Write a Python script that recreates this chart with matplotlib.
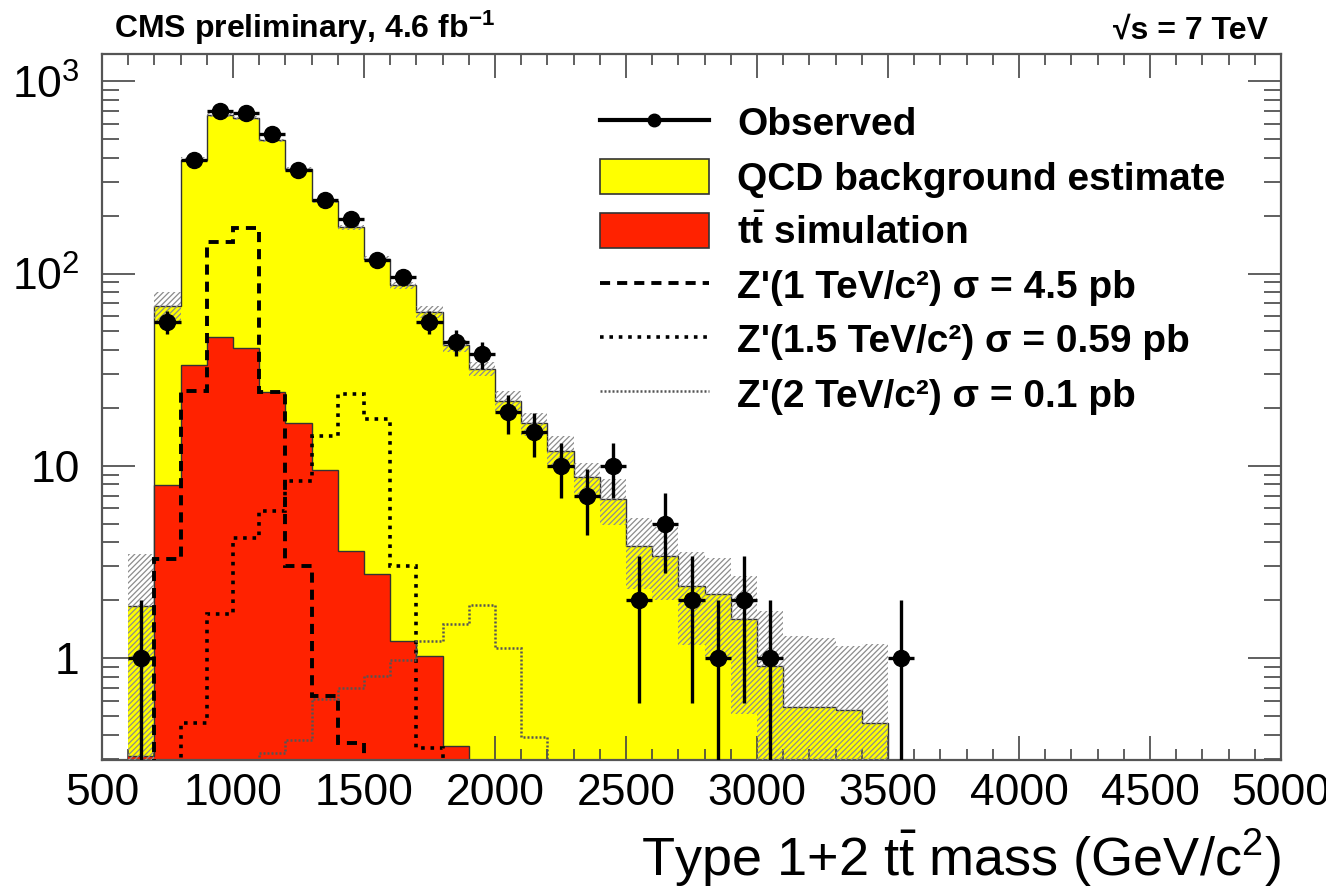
import numpy as np
import matplotlib
matplotlib.use("Agg")
import matplotlib.pyplot as plt
from matplotlib.lines import Line2D
from matplotlib.patches import Patch
from matplotlib.ticker import MultipleLocator, LogLocator, FixedLocator, FuncFormatter, NullFormatter

plt.rcParams['font.family'] = ['Liberation Sans', 'DejaVu Sans']
plt.rcParams['mathtext.fontset'] = 'custom'
plt.rcParams['mathtext.rm'] = 'Liberation Sans'
plt.rcParams['mathtext.bf'] = 'Liberation Sans:bold'
plt.rcParams['mathtext.it'] = 'Liberation Sans:italic'
plt.rcParams['hatch.linewidth'] = 0.9

# bins: 100 GeV wide, 600 -> 3700 GeV
edges = np.arange(600, 3800, 100)

observed = [1, 56, 390, 700, 680, 530, 345, 242, 193, 118, 96, 56, 44, 38, 19, 15,
            10, 7, 10, 2, 5, 2, 1, 2, 1, 0, 0, 0, 0, 1, 0]

qcd = [1.56, 60, 358, 623, 606, 469, 334, 230, 170, 116, 85.4, 61.9, 41.9, 31.9, 21.8, 16.6,
       12.0, 8.7, 6.7, 3.83, 3.4, 2.37, 2.16, 1.59, 0.91, 0.556, 0.556, 0.54, 0.46, 0, 0]

ttbar = [0.31, 7.96, 33.6, 46.6, 41.0, 24.1, 16.6, 9.5, 3.6, 2.73, 1.23, 1.02, 0.35, 0, 0, 0,
         0, 0, 0, 0, 0, 0, 0, 0, 0, 0, 0, 0, 0, 0, 0]

# total background uncertainty (absolute, symmetric)
bkg_unc = [1.6, 12, 10, 15, 15, 10, 8, 6, 5, 4, 3.5, 4.5, 3, 2.6, 2.7, 2.3,
           2.3, 1.7, 1.8, 1.55, 1.4, 1.2, 1.15, 1.08, 0.85, 0.74, 0.72, 0.61, 0.72, 0, 0]

zp_1000 = [0, 3.27, 24.6, 146, 172, 24.1, 3.01, 0.634, 0.362, 0, 0, 0, 0, 0, 0, 0,
           0, 0, 0, 0, 0, 0, 0, 0, 0, 0, 0, 0, 0, 0, 0]
zp_1500 = [0, 0, 0.46, 1.69, 4.23, 5.83, 8.35, 14.3, 23.6, 17.5, 3.0, 0.34, 0, 0, 0, 0,
           0, 0, 0, 0, 0, 0, 0, 0, 0, 0, 0, 0, 0, 0, 0]
zp_2000 = [0, 0, 0, 0, 0, 0.32, 0.377, 0.61, 0.70, 0.806, 0.976, 1.23, 1.51, 1.89, 1.13, 0.39,
           0, 0, 0, 0, 0, 0, 0, 0, 0, 0, 0, 0, 0, 0, 0]

labels = ["Observed",
          "QCD background estimate",
          r"$\mathbf{t}\bar{\mathbf{t}}$ simulation",
          "Z'(1 TeV/c²) σ = 4.5 pb",
          "Z'(1.5 TeV/c²) σ = 0.59 pb",
          "Z'(2 TeV/c²) σ = 0.1 pb"]

obs = np.array(observed, dtype=float)
tt = np.array(ttbar)
total = np.array(qcd) + tt
unc = np.array(bkg_unc)
centers = 0.5 * (edges[:-1] + edges[1:])

fig = plt.figure(figsize=(13.26, 8.88), dpi=100)
ax = fig.add_axes([0.0769, 0.1441, 0.8892, 0.7954])
ax.set_yscale('log')

yellow = '#ffff00'
red = '#ff2200'
base = 1e-3

# stacked background: QCD on top of ttbar
ax.stairs(np.where(total > 0, total, base), edges, baseline=base, fill=True,
          facecolor=yellow, edgecolor='none', zorder=1)
ax.stairs(np.where(total > 0, total, base), edges, baseline=None,
          color='#333333', lw=1.0, zorder=1.5)
ax.stairs(np.where(tt > 0, tt, base), edges, baseline=base, fill=True,
          facecolor=red, edgecolor='none', zorder=2)
ax.stairs(np.where(tt > 0, tt, base), edges, baseline=None,
          color='#333333', lw=1.0, zorder=2.5)

# uncertainty band
up = np.where(total > 0, total + unc, base)
lo = np.where(total > 0, np.maximum(total - unc, base), base)
ax.stairs(up, edges, baseline=lo, fill=True, facecolor='none',
          edgecolor='#8c8c8c', hatch='//////', lw=0, zorder=3)

# Z' signals
ax.stairs(np.where(np.array(zp_1000) > 0, zp_1000, base), edges, baseline=None,
          color='black', lw=2.8, linestyle=(0, (2.6, 1.8)), zorder=4)
ax.stairs(np.where(np.array(zp_1500) > 0, zp_1500, base), edges, baseline=None,
          color='black', lw=2.6, linestyle=(0, (1.0, 1.6)), zorder=4)
ax.stairs(np.where(np.array(zp_2000) > 0, zp_2000, base), edges, baseline=None,
          color='#555555', lw=1.8, linestyle=(0, (0.8, 0.8)), zorder=4)

# observed data
m = obs > 0
ax.errorbar(centers[m], obs[m], xerr=50, yerr=np.sqrt(obs[m]), fmt='o',
            color='black', ms=11.5, elinewidth=2.4, capsize=0, zorder=6)

ax.set_xlim(500, 5000)
ax.set_ylim(0.295, 1390)

ax.xaxis.set_major_locator(MultipleLocator(500))
ax.xaxis.set_minor_locator(MultipleLocator(100))
ax.yaxis.set_major_locator(FixedLocator([1, 10, 100, 1000]))
ax.yaxis.set_minor_locator(LogLocator(base=10, subs=np.arange(2, 10)))
ax.yaxis.set_minor_formatter(NullFormatter())
ylab = {1: '1', 10: '10', 100: r'$10^{2}$', 1000: r'$10^{3}$'}
ax.yaxis.set_major_formatter(FuncFormatter(lambda v, p: ylab.get(int(round(v)), '')))

ax.tick_params(which='both', direction='in', top=True, right=True,
               color='#444444', width=1.2)
ax.tick_params(axis='x', which='major', length=17, labelsize=32, pad=9)
ax.tick_params(axis='x', which='minor', length=8)
ax.tick_params(axis='y', which='major', length=24, labelsize=32, pad=16)
ax.tick_params(axis='y', which='minor', length=12)
for s in ax.spines.values():
    s.set_linewidth(1.6)
    s.set_color('#555555')

ax.set_xlabel(r'Type 1+2 t$\bar{\rm t}$ mass (GeV/c$^{2}$)', fontsize=39, ha='right')
ax.xaxis.set_label_coords(1.0, -0.095)

ax.text(0.0102, 1.022, r'CMS preliminary, 4.6 fb$^{\mathbf{-1}}$', transform=ax.transAxes,
        fontsize=23, fontweight='bold', ha='left', va='baseline')
ax.text(0.989, 1.022, '√s = 7 TeV', transform=ax.transAxes,
        fontsize=23, fontweight='bold', ha='right', va='baseline')

handles = [
    Line2D([], [], color='black', lw=3, marker='o', ms=9),
    Patch(facecolor=yellow, edgecolor='#333333', lw=1.2),
    Patch(facecolor=red, edgecolor='#333333', lw=1.2),
    Line2D([], [], color='black', lw=2.8, linestyle=(0, (2.6, 1.8))),
    Line2D([], [], color='black', lw=2.6, linestyle=(0, (1.0, 1.6))),
    Line2D([], [], color='#555555', lw=1.8, linestyle=(0, (0.8, 0.8))),
]
ax.legend(handles, labels, loc='upper left', bbox_to_anchor=(0.4224, 0.928),
          frameon=False, prop={'size': 28, 'weight': 'bold'}, handlelength=2.8,
          handleheight=1.0, handletextpad=0.72, labelspacing=0.40, borderpad=0,
          borderaxespad=0)

fig.savefig('out.png', dpi=100)
